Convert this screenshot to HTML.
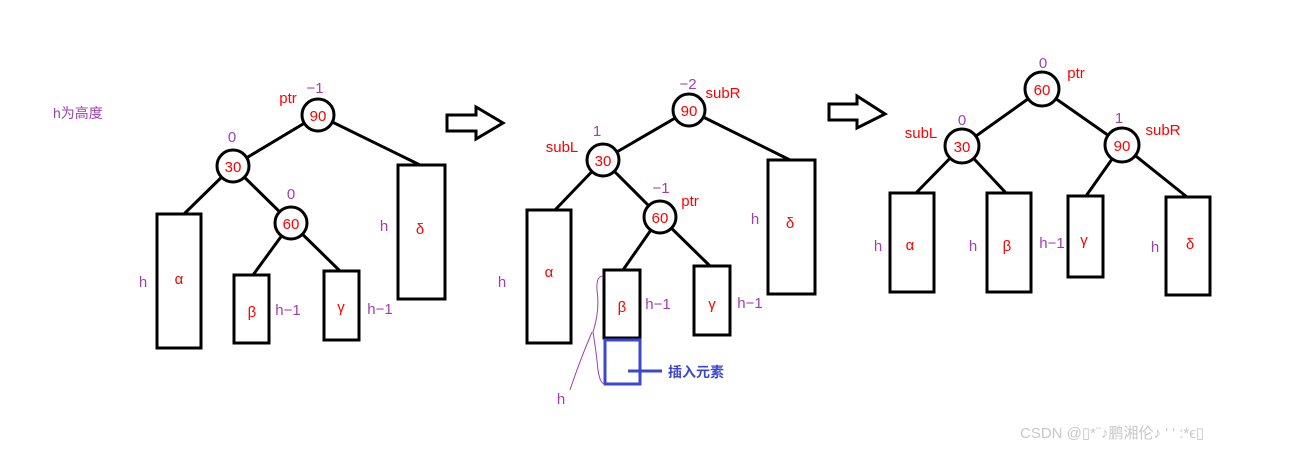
<!DOCTYPE html>
<html><head><meta charset="utf-8"><style>
html,body{margin:0;padding:0;background:#fff;}
svg{display:block;}
text{font-family:"Liberation Sans","Noto Sans CJK SC",sans-serif;}
.r{fill:#f00;font-size:15px;text-anchor:middle;}
.p{fill:#a040b0;font-size:15px;text-anchor:middle;}
.b{fill:none;stroke:#000;stroke-width:3;}
.c{fill:#fff;stroke:#000;stroke-width:3;}
</style></head><body>
<svg width="1307" height="451" viewBox="0 0 1307 451" xmlns="http://www.w3.org/2000/svg">
<text x="53" y="118" fill="#a040b0" font-size="14" style="font-family:'Liberation Sans','Noto Sans CJK SC',sans-serif">h为高度</text>
<!-- tree 1 -->
<g class="b">
<line x1="318" y1="115" x2="233" y2="166"/><line x1="318" y1="115" x2="420" y2="165"/>
<line x1="233" y1="166" x2="184" y2="214"/><line x1="233" y1="166" x2="291" y2="223"/>
<line x1="291" y1="223" x2="253" y2="275"/><line x1="291" y1="223" x2="340" y2="271"/>
<rect x="157" y="214" width="44" height="134"/><rect x="234" y="275" width="35" height="68"/>
<rect x="324" y="271" width="35" height="69"/><rect x="398" y="165" width="47" height="134"/>
</g>
<circle class="c" cx="318" cy="115" r="16"/><circle class="c" cx="233" cy="166" r="16"/><circle class="c" cx="291" cy="223" r="16"/>
<text class="r" x="318" y="121">90</text><text class="r" x="233" y="172">30</text><text class="r" x="291" y="229">60</text>
<text class="r" x="288" y="103">ptr</text><text class="p" x="315" y="93">−1</text>
<text class="p" x="232" y="142">0</text><text class="p" x="291" y="199">0</text>
<text class="r" x="179" y="284">α</text><text class="r" x="252" y="317">β</text><text class="r" x="341" y="312">γ</text><text class="r" x="420" y="234">δ</text>
<text class="p" x="143" y="287">h</text><text class="p" x="288" y="315">h−1</text><text class="p" x="380" y="314">h−1</text><text class="p" x="384" y="231">h</text>
<!-- arrow 1 -->
<polygon points="447,115 476,115 476,107 503,123 476,139 476,131 447,131" fill="#fff" stroke="#000" stroke-width="3"/>
<!-- tree 2 -->
<g class="b">
<line x1="689" y1="110" x2="603" y2="160"/><line x1="689" y1="110" x2="790" y2="160"/>
<line x1="603" y1="160" x2="555" y2="210"/><line x1="603" y1="160" x2="660" y2="217"/>
<line x1="660" y1="217" x2="623" y2="270"/><line x1="660" y1="217" x2="710" y2="266"/>
<rect x="527" y="210" width="44" height="133"/><rect x="604" y="270" width="36" height="68"/>
<rect x="694" y="266" width="36" height="69"/><rect x="768" y="160" width="47" height="134"/>
</g>
<rect x="605" y="340" width="35" height="44" fill="none" stroke="#3a48d0" stroke-width="3"/>
<line x1="628" y1="371" x2="662" y2="371" stroke="#3a48d0" stroke-width="3"/>
<text x="668" y="377" fill="#3a48d0" font-size="14" font-weight="bold" style="font-family:'Liberation Sans','Noto Sans CJK SC',sans-serif">插入元素</text>
<path d="M603,276 Q596,276 597,290 Q600,310 593,332 Q596,350 598,370 Q600,384 605,384" fill="none" stroke="#a040b0" stroke-width="1"/>
<path d="M592,332 Q580,360 570,390" fill="none" stroke="#a040b0" stroke-width="1"/>
<circle class="c" cx="689" cy="110" r="16"/><circle class="c" cx="603" cy="160" r="16"/><circle class="c" cx="660" cy="217" r="16"/>
<text class="r" x="689" y="116">90</text><text class="r" x="603" y="166">30</text><text class="r" x="660" y="223">60</text>
<text class="p" x="688" y="89">−2</text><text class="r" x="723" y="98">subR</text>
<text class="p" x="597" y="136">1</text><text class="r" x="562" y="152">subL</text>
<text class="p" x="661" y="193">−1</text><text class="r" x="690" y="206">ptr</text>
<text class="r" x="549" y="277">α</text><text class="r" x="622" y="312">β</text><text class="r" x="712" y="309">γ</text><text class="r" x="790" y="228">δ</text>
<text class="p" x="502" y="287">h</text><text class="p" x="658" y="309">h−1</text><text class="p" x="750" y="308">h−1</text><text class="p" x="755" y="224">h</text>
<text class="p" x="561" y="404">h</text>
<!-- arrow 2 -->
<polygon points="829,104 857,104 857,96 885,114 857,128 857,120 829,120" fill="#fff" stroke="#000" stroke-width="3"/>
<!-- tree 3 -->
<g class="b">
<line x1="1042" y1="89" x2="962" y2="146"/><line x1="1042" y1="89" x2="1122" y2="145"/>
<line x1="962" y1="146" x2="916" y2="193"/><line x1="962" y1="146" x2="1006" y2="193"/>
<line x1="1122" y1="145" x2="1086" y2="196"/><line x1="1122" y1="145" x2="1187" y2="197"/>
<rect x="890" y="193" width="44" height="99"/><rect x="987" y="193" width="44" height="99"/>
<rect x="1068" y="196" width="35" height="81"/><rect x="1166" y="197" width="44" height="98"/>
</g>
<circle class="c" cx="1042" cy="89" r="17"/><circle class="c" cx="962" cy="146" r="17"/><circle class="c" cx="1122" cy="145" r="17"/>
<text class="r" x="1042" y="95">60</text><text class="r" x="962" y="152">30</text><text class="r" x="1122" y="151">90</text>
<text class="p" x="1043" y="68">0</text><text class="r" x="1076" y="78">ptr</text>
<text class="p" x="962" y="125">0</text><text class="r" x="921" y="138">subL</text>
<text class="p" x="1119" y="123">1</text><text class="r" x="1163" y="135">subR</text>
<text class="r" x="910" y="250">α</text><text class="r" x="1007" y="251">β</text><text class="r" x="1084" y="245">γ</text><text class="r" x="1190" y="249">δ</text>
<text class="p" x="878" y="251">h</text><text class="p" x="973" y="251">h</text><text class="p" x="1052" y="248">h−1</text><text class="p" x="1155" y="252">h</text>
<text x="1020" y="438" fill="#c8c8c8" font-size="15" style="font-family:'Liberation Sans','Noto Sans CJK SC',sans-serif">CSDN @▯*¨♪鹏湘伦♪ ' ' :*ϵ▯</text>
</svg>
</body></html>
